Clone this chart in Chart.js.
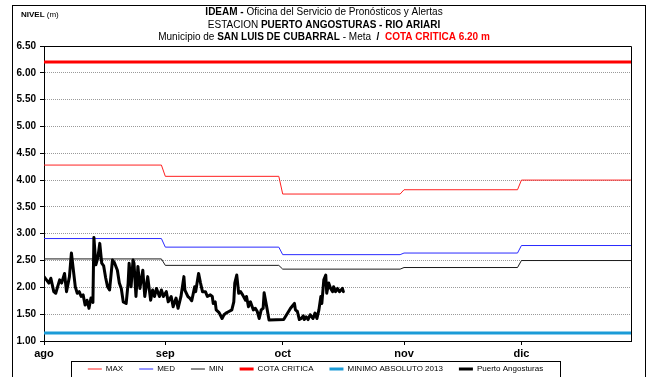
<!DOCTYPE html>
<html>
<head>
<meta charset="utf-8">
<script src="https://cdn.jsdelivr.net/npm/chart.js@4.4.1/dist/chart.umd.min.js"></script>
<style>
  html, body { margin: 0; padding: 0; background: #fff; }
  canvas { display: block; }
</style>
</head>
<body>
<canvas id="chart" width="646" height="377"></canvas>
<script>
// Time axis: day 0 = 1 August
const monthLabels = ['ago', 'sep', 'oct', 'nov', 'dic'];
const monthStartDays = [0, 31, 61, 92, 122];
const lastDay = 150;

// Level axis ticks (m)
const levelTicks = [1.0, 1.5, 2.0, 2.5, 3.0, 3.5, 4.0, 4.5, 5.0, 5.5, 6.0, 6.5];

// Monthly historical levels (m)
const maxLevels = [4.28, 4.07, 3.74, 3.82, 4.00];
const medLevels = [2.91, 2.75, 2.61, 2.64, 2.78];
const minLevels = [2.53, 2.41, 2.34, 2.37, 2.50];
const criticalLevel = 6.20;
const absoluteMin2013 = 1.15;

// Puerto Angosturas gauge readings: days since 1 Aug, level (m)
const gaugeDays = [
  0, 1.25, 1.75, 2.5, 3, 4, 4.5, 5.25, 5.75, 6.5, 7, 8, 8.5, 9, 9.5, 10, 10.5, 11, 11.5, 12,
  12.5, 12.75, 13.25, 13.75, 14.25, 14.75, 15.25, 15.75, 16.25, 16.75, 17.5, 18, 18.75, 19.25, 19.75, 20.25,
  21, 21.5, 21.75, 22.25, 22.75, 23, 23.5, 24, 24.5, 25.25, 25.75, 26.5, 27.25, 27.75, 28.25, 28.75,
  29.5, 30, 30.5, 31.25, 31.75, 32.5, 33, 33.75, 34.25, 35, 35.75, 36, 36.75, 37.25, 37.75, 38.5,
  38.75, 39.5, 40, 40.5, 41.25, 41.75, 42.5, 43, 43.25, 43.75, 44, 44.75, 45.5, 46, 46.5, 47.25,
  48, 48.5, 48.75, 49.25, 49.75, 50.25, 50.75, 51.5, 51.75, 52.25, 52.75, 53.5, 54, 54.5, 55, 55.5,
  56, 56.25, 57, 57.5, 61.25, 63, 64, 64.25, 64.75, 65.25, 65.75, 66.25, 66.5, 67, 67.5, 68,
  68.75, 69.25, 69.75, 70.25, 70.75, 71, 71.5, 72, 72.25, 72.75, 73.25, 73.75, 74, 74.5, 75, 75.5,
  76.25, 76.5
];
const gaugeLevels = [
  2.20, 2.08, 2.17, 1.92, 1.89, 2.14, 2.08, 2.26, 1.92, 2.20, 2.64, 2.01, 1.89, 1.92, 1.83, 1.86, 1.67, 1.76, 1.61, 1.80,
  1.72, 2.93, 2.42, 2.55, 2.82, 2.45, 2.40, 2.18, 2.01, 1.95, 2.51, 2.46, 2.32, 2.08, 1.98, 1.73,
  1.70, 2.08, 2.45, 2.01, 2.51, 2.45, 1.83, 2.39, 1.98, 2.32, 1.83, 2.20, 1.76, 1.95, 1.83, 1.98,
  1.83, 1.95, 1.83, 1.92, 1.73, 1.83, 1.64, 1.80, 1.61, 1.83, 2.20, 1.95, 1.83, 1.80, 1.75, 2.01,
  1.92, 2.26, 2.08, 1.92, 1.92, 1.83, 1.86, 1.83, 1.70, 1.73, 1.58, 1.53, 1.42, 1.49, 1.52, 1.55,
  1.58, 1.73, 2.08, 2.23, 1.89, 1.92, 1.86, 1.76, 1.83, 1.64, 1.73, 1.58, 1.61, 1.55, 1.42, 1.58,
  1.61, 1.90, 1.60, 1.39, 1.40, 1.61, 1.70, 1.58, 1.55, 1.40, 1.42, 1.47, 1.40, 1.45, 1.40, 1.49,
  1.42, 1.52, 1.42, 1.58, 1.83, 1.70, 2.14, 2.23, 1.89, 2.08, 1.98, 1.92, 2.01, 1.92, 1.98, 1.92,
  1.98, 1.92
];

const FONT = "'Liberation Sans', Arial, Helvetica, sans-serif";

// One flat segment per month, joined from the last day of a month to the first of the next
function monthlySteps(levels) {
  const pts = [];
  levels.forEach((v, i) => {
    const start = monthStartDays[i];
    const end = i + 1 < monthStartDays.length ? monthStartDays[i + 1] - 1 : lastDay;
    pts.push({ x: start, y: v }, { x: end, y: v });
  });
  return pts;
}
function constantLine(v) {
  return [{ x: 0, y: v }, { x: lastDay, y: v }];
}
const gaugePoints = gaugeDays.map((d, i) => ({ x: d, y: gaugeLevels[i] }));

// Header text: each line is a list of [text, style] runs (b = bold, r = red)
const headerLines = [
  [['IDEAM - ', 'b'], ['Oficina del Servicio de Pronósticos y Alertas', '']],
  [['ESTACION ', ''], ['PUERTO ANGOSTURAS - RIO ARIARI', 'b']],
  [['Municipio de ', ''], ['SAN LUIS DE CUBARRAL', 'b'], [' - Meta  ', ''], ['/  ', 'b'], ['COTA CRITICA 6.20 m', 'br']]
];
const headerY = [12.5, 25, 37.5];
const axisTitle = [['NIVEL', 'b'], [' (m)', '']];

function runFont(style, size) {
  return (style.includes('b') ? 'bold ' : '') + size + 'px ' + FONT;
}
function drawRuns(ctx, runs, x, y, size, align) {
  let total = 0;
  const widths = runs.map(([t, s]) => { ctx.font = runFont(s, size); const w = ctx.measureText(t).width; total += w; return w; });
  let cx = align === 'center' ? x - total / 2 : x;
  ctx.save();
  ctx.textBaseline = 'middle';
  ctx.textAlign = 'left';
  runs.forEach(([t, s], i) => {
    ctx.font = runFont(s, size);
    ctx.fillStyle = s.includes('r') ? '#ff0000' : '#000';
    ctx.fillText(t, cx, y);
    cx += widths[i];
  });
  ctx.restore();
}

const decorations = {
  id: 'decorations',
  afterLayout(chart) {
    // let the month labels hang below the thin axis box
    chart.scales.x.bottom = chart.height;
  },
  beforeDraw(chart) {
    const ctx = chart.ctx;
    ctx.save();
    ctx.fillStyle = '#fff';
    ctx.fillRect(0, 0, chart.width, chart.height);
    ctx.restore();
  },
  afterDraw(chart) {
    const ctx = chart.ctx;
    const a = chart.chartArea;
    ctx.save();
    // outer frame
    ctx.strokeStyle = '#000';
    ctx.lineWidth = 1;
    ctx.strokeRect(12.5, 5.5, 633, 420);
    // plot frame (top and right)
    ctx.beginPath();
    ctx.moveTo(Math.round(a.left) + 0.5, Math.round(a.top) + 0.5);
    ctx.lineTo(Math.round(a.right) + 0.5, Math.round(a.top) + 0.5);
    ctx.lineTo(Math.round(a.right) + 0.5, Math.round(a.bottom) + 0.5);
    ctx.stroke();
    // legend box
    const hb = chart.legend.legendHitBoxes;
    if (hb && hb.length) {
      const left = Math.round(hb[0].left - 17) + 0.5;
      const last = hb[hb.length - 1];
      const right = Math.round(last.left + last.width + 17) + 0.5;
      const top = Math.round(hb[0].top - 4) + 0.5;
      ctx.strokeRect(left, top, right - left, 40);
    }
    // header
    headerLines.forEach((runs, i) => drawRuns(ctx, runs, 324, headerY[i], 10, 'center'));
    drawRuns(ctx, axisTitle, 21, 15, 8, 'left');
    ctx.restore();
  }
};

const lineBase = { pointRadius: 0, pointHoverRadius: 0, fill: false, tension: 0, borderJoinStyle: 'round' };

new Chart(document.getElementById('chart'), {
  type: 'line',
  data: {
    datasets: [
      { ...lineBase, label: 'MAX', data: monthlySteps(maxLevels), borderColor: '#ff2020', borderWidth: 1, order: 5 },
      { ...lineBase, label: 'MED', data: monthlySteps(medLevels), borderColor: '#2a2aff', borderWidth: 1, order: 4 },
      { ...lineBase, label: 'MIN', data: monthlySteps(minLevels), borderColor: '#1a1a1a', borderWidth: 1, order: 3 },
      { ...lineBase, label: 'COTA CRITICA', data: constantLine(criticalLevel), borderColor: '#ff0000', borderWidth: 3, order: 2 },
      { ...lineBase, label: 'MINIMO ABSOLUTO 2013', data: constantLine(absoluteMin2013), borderColor: '#1b9bd7', borderWidth: 3, order: 1 },
      { ...lineBase, label: 'Puerto Angosturas', data: gaugePoints, borderColor: '#000000', borderWidth: 3, borderCapStyle: 'round', order: 0 }
    ]
  },
  options: {
    responsive: false,
    animation: false,
    devicePixelRatio: 1,
    events: [],
    layout: { padding: { left: 0, right: 15, top: 46, bottom: 0 } },
    scales: {
      x: {
        type: 'linear',
        min: 0,
        max: lastDay,
        afterBuildTicks: s => { s.ticks = monthStartDays.map(v => ({ value: v })); },
        afterFit: s => { s.height = 8; },
        ticks: {
          callback: (v, i) => monthLabels[i],
          font: { family: FONT, size: 11, weight: 'bold' },
          color: '#000',
          padding: 2,
          maxRotation: 0,
          autoSkip: false
        },
        grid: { drawOnChartArea: false, drawTicks: true, tickLength: 4, tickColor: '#000' },
        border: { color: '#000', width: 1 }
      },
      y: {
        min: 1,
        max: 6.5,
        afterBuildTicks: s => { s.ticks = levelTicks.map(v => ({ value: v })); },
        afterFit: s => { s.width = 44; },
        ticks: {
          callback: v => Number(v).toFixed(2),
          font: { family: FONT, size: 10, weight: 'bold' },
          color: '#000',
          padding: 4
        },
        grid: { color: '#9a9a9a', lineWidth: 1, tickColor: '#000', tickLength: 4, tickBorderDash: [] },
        border: { color: '#000', width: 1, dash: [1, 1] }
      }
    },
    plugins: {
      title: { display: false },
      tooltip: { enabled: false },
      legend: {
        position: 'bottom',
        maxHeight: 28,
        labels: {
          usePointStyle: true,
          pointStyle: 'line',
          pointStyleWidth: 14,
          padding: 16,
          color: '#000',
          font: { family: FONT, size: 8 },
          sort: (a, b) => a.datasetIndex - b.datasetIndex
        }
      }
    }
  },
  plugins: [decorations]
});
</script>
</body>
</html>
